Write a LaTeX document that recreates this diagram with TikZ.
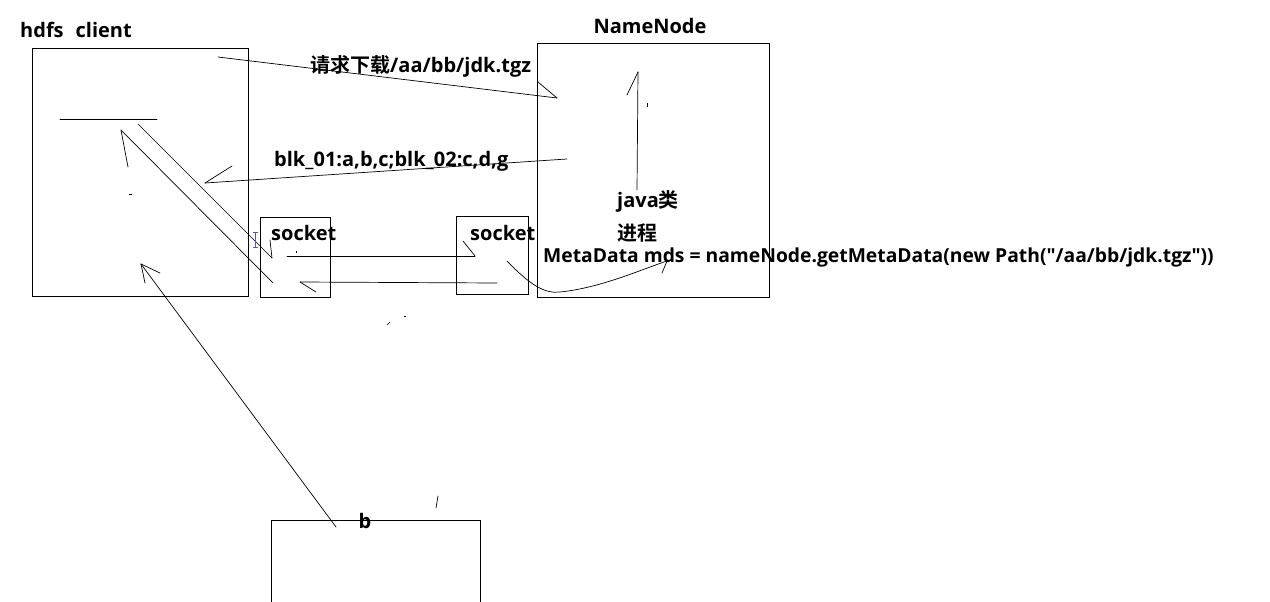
\documentclass[tikz,border=0pt]{standalone}
\usepackage{fontspec}
\setmainfont{Open Sans}[Ligatures=TeXOff]
\newfontfamily\cjk{Noto Sans CJK SC}[BoldFont={Noto Sans CJK SC Bold}]
\begin{document}
\begin{tikzpicture}[x=1pt,y=-1pt,
  box/.style={draw, line width=0.8pt, inner sep=0pt, anchor=north west},
  lbl/.style={font=\bfseries\fontsize{20}{22}\selectfont, inner sep=0pt, anchor=west},
  ln/.style={line width=0.7pt, line cap=round},
  thin/.style={line width=0.5pt}]
\useasboundingbox (0,0) rectangle (1270,602);
\fill[white] (0,0) rectangle (1270,602);

% boxes
\node[box, minimum width=216pt, minimum height=248pt] (client) at (32,48) {};
\node[box, minimum width=232pt, minimum height=254pt] (nn) at (537,43) {};
\node[box, minimum width=70pt, minimum height=80pt] (sockL) at (260,217) {};
\node[box, minimum width=72pt, minimum height=78pt] (sockR) at (456,216) {};
\node[box, minimum width=209pt, minimum height=100pt] (bbox) at (271,520) {};

% labels
\node[lbl] (tclient) at (20,30) {hdfs\hspace{0.6em}client};
\node[lbl, anchor=center] (tnn) at (650,26) {NameNode};
\node[lbl] (treq) at (310,66) {{\cjk\bfseries 请求下载}/aa/bb/jdk.tgz};
\node[lbl] (tblk) at (274,161) {blk\_01:a,b,c;blk\_02:c,d,g};
\node[lbl] (tsL) at (271,233) {socket};
\node[lbl] (tsR) at (470,233) {socket};
\node[lbl] (tjava) at (617,201) {java{\cjk\bfseries 类}};
\node[lbl] (tproc) at (617,233) {{\cjk\bfseries 进程}};
\node[lbl, font=\bfseries\fontsize{19.3}{21}\selectfont] (tmeta) at (543,257) {MetaData mds = nameNode.getMetaData(new Path("/aa/bb/jdk.tgz"))};
\node[lbl, anchor=center] (tb) at (365,521) {b};

% coordinates
\coordinate (r1) at (218,57);   \coordinate (r2) at (557,98);  \coordinate (r3) at (538,82);
\coordinate (k1) at (567,159);  \coordinate (k2) at (205,183); \coordinate (k3) at (232,166);
\coordinate (h1) at (60,119);   \coordinate (h2) at (157,119);
\coordinate (d1) at (138,124);  \coordinate (d2) at (272,258); \coordinate (d3) at (270,240);
\coordinate (e1) at (273,283);  \coordinate (e2) at (121,130); \coordinate (e3) at (128,167);
\coordinate (u1) at (336,527);  \coordinate (u2) at (141,264); \coordinate (u3) at (160,273); \coordinate (u4) at (145,283);
\coordinate (s1) at (287,256);  \coordinate (s2) at (475,256); \coordinate (s3) at (463,241);
\coordinate (t1) at (497,283);  \coordinate (t2) at (300,282); \coordinate (t3) at (316,292);
\coordinate (c1) at (507,261);  \coordinate (c2) at (560,292); \coordinate (c3) at (667,261); \coordinate (c4) at (662,273);
\coordinate (v1) at (637,190);  \coordinate (v2) at (638,72);  \coordinate (v3) at (627,95);

% connectors
\draw[ln] (r1) -- (r2); \draw[ln] (r3) -- (r2);
\draw[ln] (k1) -- (k2); \draw[ln] (k2) -- (k3);
\draw[ln] (h1) -- (h2);
\draw[ln] (d1) -- (d2); \draw[ln] (d3) -- (d2);
\draw[ln] (e1) -- (e2); \draw[ln] (e2) -- (e3);
\draw[ln] (u1) -- (u2); \draw[ln] (u2) -- (u3); \draw[ln] (u2) -- (u4);
\draw[ln] (s1) -- (s2); \draw[ln] (s3) -- (s2);
\draw[ln] (t1) -- (t2); \draw[ln] (t2) -- (t3);
\draw[ln] (c1) .. controls (530,285) and (545,294) .. (c2) .. controls (600,288) and (640,270) .. (c3);
\draw[ln] (c3) -- (c4);
\draw[ln] (v1) -- (v2); \draw[ln] (v3) -- (v2);

% small marks
\draw[ln] (438,496) -- (436,508);
\draw[thin] (647,103) -- (647,107);
\draw[thin] (129,194) -- (132,194);
\draw[thin] (296,251) -- (296,253);
\draw[thin] (404,316) -- (406,316);
\draw[thin] (387,325) -- (390,322);
% cursor
\draw[thin, color=gray!70!blue] (255.5,232) -- (255.5,247) (253,232) -- (258,232) (253,247) -- (258,247);
\end{tikzpicture}
\end{document}
